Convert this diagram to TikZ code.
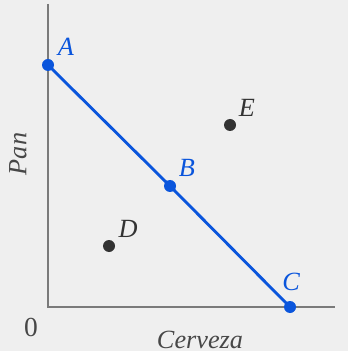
\documentclass[tikz,border=0pt]{standalone}
\usepackage{fontspec}
\setmainfont{Liberation Serif}[ItalicFont={Liberation Serif Italic}]
\definecolor{paper}{HTML}{EFEFEF}
\definecolor{axisgray}{HTML}{7A7A7A}
\definecolor{budget}{HTML}{0A55DC}
\definecolor{ink}{HTML}{333333}
\tikzset{
  dot/.style={circle,fill=#1,inner sep=0pt,minimum size=4.8pt},
  lbl/.style={font=\fontsize{10.5}{12}\selectfont\itshape,inner sep=0pt}
}

\begin{document}
\begin{tikzpicture}[x=0.4pt,y=-0.4pt]
  \fill[paper] (0,0) rectangle (348,351);
  % axes
  \coordinate (top) at (48,4);
  \coordinate (origin) at (48,307);
  \coordinate (right) at (335,307);
  \draw[axisgray,line width=0.8pt] (top)--(origin)--(right);
  \node[font=\fontsize{11}{13}\selectfont,text=ink!90] (zero) at (31,327){0};
  \node[lbl,text=ink!90] (xlab) at (200,340){Cerveza};
  \node[lbl,text=ink!90,rotate=90] (ylab) at (18,154){Pan};
  % budget line
  \node[dot=budget] (A) at (48,65){};
  \node[dot=budget] (B) at (170,186){};
  \node[dot=budget] (C) at (290,307){};
  \draw[budget,line width=1.15pt] (A.center)--(B.center)--(C.center);
  \node[lbl,text=budget] (Alab) at (66,47){A};
  \node[lbl,text=budget] (Blab) at (187,168){B};
  \node[lbl,text=budget] (Clab) at (291,282){C};
  % other baskets
  \node[dot=ink] (D) at (109,246){};
  \node[dot=ink] (E) at (230,125){};
  \node[lbl,text=ink] (Dlab) at (128,229){D};
  \node[lbl,text=ink] (Elab) at (247,108){E};
\end{tikzpicture}
\end{document}
